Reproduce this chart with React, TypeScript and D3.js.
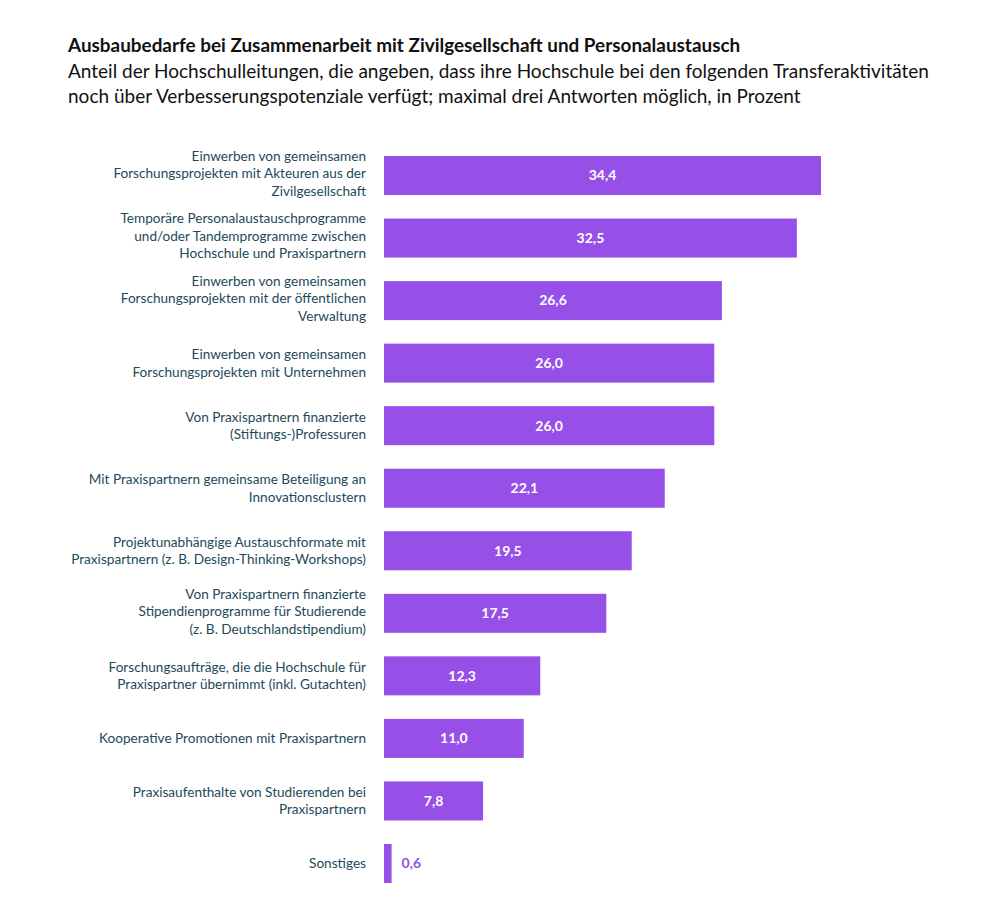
import React, { useEffect, useRef } from 'react';
import * as d3 from 'd3';

const labels: string[][] = [
  ['Einwerben von gemeinsamen', 'Forschungsprojekten mit Akteuren aus der', 'Zivilgesellschaft'],
  ['Temporäre Personalaustauschprogramme', 'und/oder Tandemprogramme zwischen', 'Hochschule und Praxispartnern'],
  ['Einwerben von gemeinsamen', 'Forschungsprojekten mit der öffentlichen', 'Verwaltung'],
  ['Einwerben von gemeinsamen', 'Forschungsprojekten mit Unternehmen'],
  ['Von Praxispartnern finanzierte', '(Stiftungs-)Professuren'],
  ['Mit Praxispartnern gemeinsame Beteiligung an', 'Innovationsclustern'],
  ['Projektunabhängige Austauschformate mit', 'Praxispartnern (z. B. Design-Thinking-Workshops)'],
  ['Von Praxispartnern finanzierte', 'Stipendienprogramme für Studierende', '(z. B. Deutschlandstipendium)'],
  ['Forschungsaufträge, die die Hochschule für', 'Praxispartner übernimmt (inkl. Gutachten)'],
  ['Kooperative Promotionen mit Praxispartnern'],
  ['Praxisaufenthalte von Studierenden bei', 'Praxispartnern'],
  ['Sonstiges'],
];
const values = [34.4, 32.5, 26.6, 26.0, 26.0, 22.1, 19.5, 17.5, 12.3, 11.0, 7.8, 0.6];

const title = 'Ausbaubedarfe bei Zusammenarbeit mit Zivilgesellschaft und Personalaustausch';
const subtitle = [
  'Anteil der Hochschulleitungen, die angeben, dass ihre Hochschule bei den folgenden Transferaktivitäten',
  'noch über Verbesserungspotenziale verfügt; maximal drei Antworten möglich, in Prozent',
];

const W = 1000;
const H = 920;
const PURPLE = '#9650e8';
const TEAL = '#1d4a5a';
const FONT = 'Lato, "Open Sans", sans-serif';

const App: React.FC = () => {
  const svgRef = useRef<SVGSVGElement>(null);

  useEffect(() => {
    if (!svgRef.current) return;
    const svg = d3.select(svgRef.current);
    svg.selectAll('*').remove();

    const idx = values.map((_, i) => i);
    const x = d3.scaleLinear().domain([0, 34.4]).range([384, 821]);
    const y = d3.scaleBand<number>().domain(idx).range([156, 883]).paddingInner(0.376).paddingOuter(0);

    // Title + subtitle
    svg.append('text')
      .attr('x', 68).attr('y', 52)
      .attr('font-family', FONT).attr('font-size', 18.9).attr('font-weight', 'bold')
      .attr('fill', '#111').text(title);
    subtitle.forEach((s, i) => {
      svg.append('text')
        .attr('x', 68).attr('y', 78 + i * 25)
        .attr('font-family', FONT).attr('font-size', 19)
        .attr('fill', '#111').text(s);
    });

    const rows = svg.append('g').selectAll('g').data(idx).enter().append('g');

    rows.append('rect')
      .attr('x', x(0))
      .attr('y', d => y(d)!)
      .attr('width', d => x(values[d]) - x(0))
      .attr('height', y.bandwidth())
      .attr('fill', PURPLE);

    // value labels
    rows.append('text')
      .attr('x', d => values[d] < 3 ? x(values[d]) + 10 : (x(0) + x(values[d])) / 2)
      .attr('y', d => y(d)! + y.bandwidth() / 2)
      .attr('dy', '0.35em')
      .attr('text-anchor', d => values[d] < 3 ? 'start' : 'middle')
      .attr('font-family', FONT).attr('font-size', 14).attr('font-weight', 'bold')
      .attr('fill', d => values[d] < 3 ? PURPLE : '#fff')
      .text(d => d3.format('.1f')(values[d]).replace('.', ','));

    // category labels
    const lh = 17.5;
    rows.each(function (d) {
      const lines = labels[d];
      const cy = y(d)! + y.bandwidth() / 2 - (lines.length === 3 ? 2 : 0);
      const t = d3.select(this).append('text')
        .attr('text-anchor', 'end')
        .attr('font-family', FONT).attr('font-size', 13.6)
        .attr('fill', TEAL);
      lines.forEach((ln, i) => {
        t.append('tspan')
          .attr('x', 366)
          .attr('y', cy + (i - (lines.length - 1) / 2) * lh)
          .attr('dy', '0.35em')
          .text(ln);
      });
    });
  }, []);

  return (
    <div>
      <svg ref={svgRef} width={W} height={H} style={{ display: 'block', background: '#fff', margin: '-8px' }} />
    </div>
  );
};

export default App;
